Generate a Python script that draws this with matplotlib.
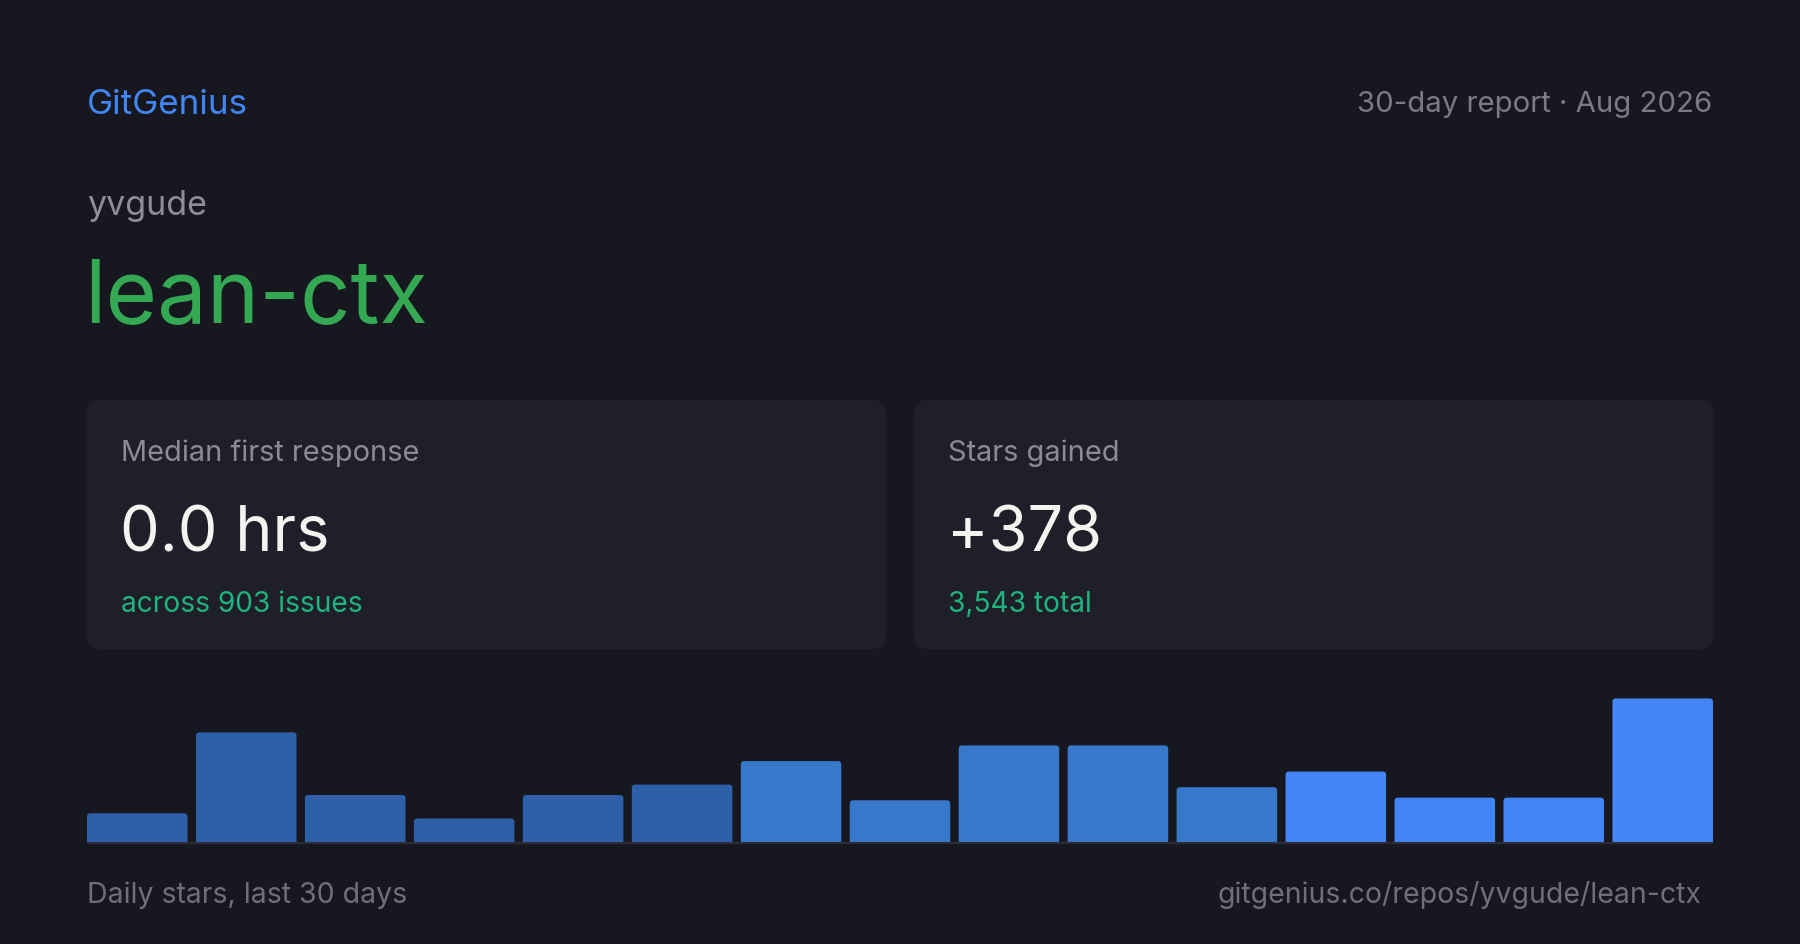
import matplotlib
matplotlib.use("Agg")
import matplotlib.pyplot as plt
from matplotlib.patches import FancyBboxPatch

plt.rcParams['font.family'] = ['Inter', 'DejaVu Sans']

# header / card texts
brand = "GitGenius"
report_label = "30-day report · Aug 2026"
owner = "yvgude"
repo = "lean-ctx"
card_labels = ["Median first response", "Stars gained"]
card_values = ["0.0 hrs", "+378"]
card_notes = ["across 903 issues", "3,543 total"]
footer_left = "Daily stars, last 30 days"
footer_right = "gitgenius.co/repos/yvgude/lean-ctx"

# stars per 2-day bucket, last 30 days
stars = [11, 42, 18, 9, 18, 22, 31, 16, 37, 37, 21, 27, 17, 17, 55]

BG = "#16171f"
CARD = "#1f1f2a"
W, H = 1800, 945

fig = plt.figure(figsize=(W / 100, H / 100), dpi=100, facecolor=BG)
bg = fig.add_axes([0, 0, 1, 1])
bg.set_xlim(0, W)
bg.set_ylim(H, 0)
bg.axis("off")

def px(v):
    return v * 0.72

bg.text(87, 114, brand, color="#4286f2", fontsize=px(35), va="baseline")
bg.text(1712, 112, report_label, color="#7b7b86", fontsize=px(29.4), va="baseline", ha="right")
bg.text(87, 215, owner, color="#8d8d97", fontsize=px(34), va="baseline")
bg.text(84, 322, repo, color="#34a853", fontsize=px(88.5), va="baseline")

# stat cards
card_x = [87, 914]
card_w = 799
for i in range(2):
    x0 = card_x[i]
    bg.add_patch(FancyBboxPatch((x0, 401), card_w, 249,
                                boxstyle="round,pad=0,rounding_size=13",
                                fc=CARD, ec="none"))
    tx = x0 + 34
    bg.text(tx, 461, card_labels[i], color="#8b8b96", fontsize=px(29), va="baseline")
    bg.text(tx - 1, 552, card_values[i], color="#f3f3ef", fontsize=px(63), va="baseline")
    bg.text(tx, 612, card_notes[i], color="#1fb47d", fontsize=px(28.2), va="baseline")

bg.text(87, 903, footer_left, color="#6f6f7a", fontsize=px(28.5), va="baseline")
bg.text(1701, 903, footer_right, color="#6f6f7a", fontsize=px(28.4), va="baseline", ha="right")

# bar chart
bar_w = 0.923
n = len(stars)
x_left, x_right = 87, 1713
base_y = 843
ymax = 60
ppu = 2.61  # px per star
ax_h = ymax * ppu
ax = fig.add_axes([x_left / W, (H - base_y) / H, (x_right - x_left) / W, ax_h / H])
ax.set_xlim(-bar_w / 2, n - 1 + bar_w / 2)
ax.set_ylim(0, ymax)
ax.axis("off")


def bar_color(i):
    if i < 6:
        return "#2e5fa9"
    if i < 11:
        return "#3778cb"
    return "#4285f4"


bars = ax.bar(range(n), stars, width=bar_w, color="none")
unit_x = (n - 1 + bar_w) / (x_right - x_left)
unit_y = 1 / ppu
r = 3.5
for i, b in enumerate(bars):
    ax.add_patch(FancyBboxPatch((b.get_x(), -3), b.get_width(), b.get_height() + 3,
                                boxstyle=f"round,pad=0,rounding_size={r * unit_x}",
                                mutation_aspect=unit_y / unit_x,
                                fc=bar_color(i), ec="none"))

bg.plot([x_left, x_right], [844, 844], color="#2b2c37", lw=1.6, solid_capstyle="butt")

fig.savefig("out.png", dpi=100, facecolor=BG)
